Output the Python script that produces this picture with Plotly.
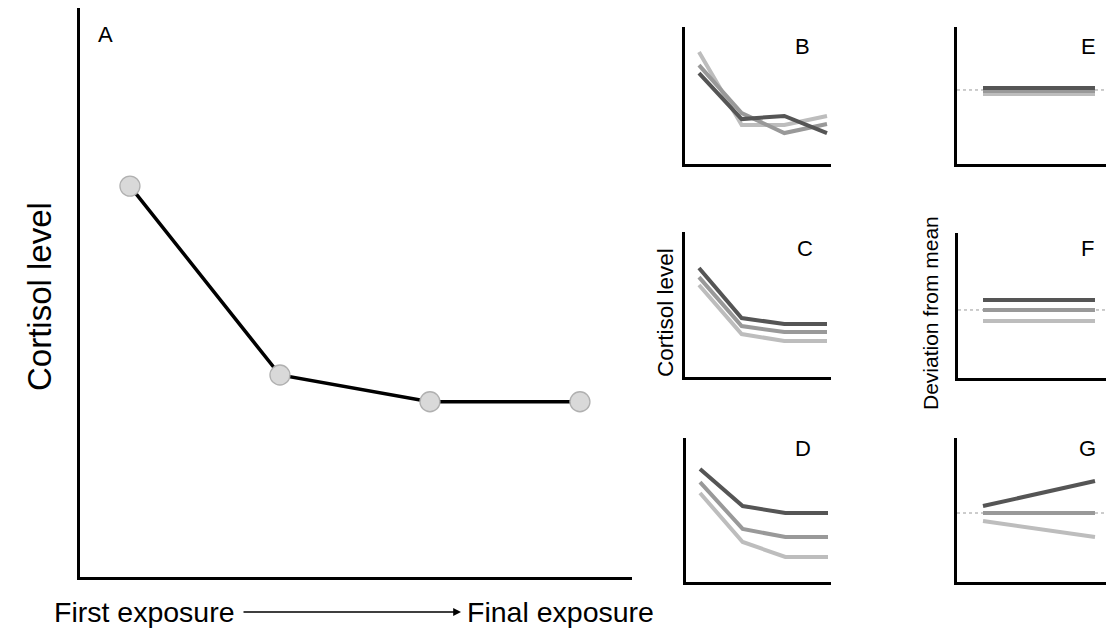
import plotly.graph_objects as go

W, H = 1106, 634
FONT = "Liberation Sans, Arial, sans-serif"

# ---------------- data ----------------
exposures = [1, 2, 3, 4]
ends = [1, 4]

# Panel A: mean cortisol over exposures
a_cortisol = [6.87, 3.55, 3.08, 3.08]

# Panel B (crossing individual curves)
b_dark = [6.5, 3.21, 3.43, 2.21]
b_mid = [7.07, 3.64, 2.21, 2.86]
b_light = [8.0, 2.79, 2.79, 3.43]

# Panel C (parallel curves)
c_dark = [7.79, 4.21, 3.79, 3.79]
c_mid = [7.14, 3.64, 3.21, 3.21]
c_light = [6.57, 3.07, 2.57, 2.57]

# Panel D (diverging curves)
d_dark = [8.07, 5.43, 4.93, 4.93]
d_mid = [7.14, 3.79, 3.21, 3.21]
d_light = [6.36, 2.86, 1.79, 1.79]

# Deviation from mean panels (first, final exposure)
e_dark = [0.14, 0.14]
e_mid = [-0.07, -0.07]
e_light = [-0.29, -0.29]

f_dark = [0.71, 0.71]
f_mid = [0.0, 0.0]
f_light = [-0.79, -0.79]

g_dark = [0.5, 2.29]
g_mid = [0.0, 0.0]
g_light = [-0.57, -1.71]

DARK, MID, LIGHT = "#555555", "#999999", "#bdbdbd"


def px_x(p):
    return p / W


def px_y(p):
    return 1 - p / H


fig = go.Figure()

# panel definitions: x-domain px, y-domain px (top, bottom), xrange, yrange
panels = {
    "A": ((80, 632), (8, 577), (0.667, 4.347), (0, 10)),
    "B": ((685, 831), (27, 164), (0.672, 4.094), (0, 9.79)),
    "C": ((685, 831), (232, 377), (0.672, 4.094), (0, 10.36)),
    "D": ((686, 831), (438, 582), (0.672, 4.07), (0, 10.29)),
    "E": ((957, 1106), (27, 164), (0.3035, 4.295), (-5.29, 4.5)),
    "F": ((958, 1106), (233, 378), (0.33, 4.295), (-4.86, 5.5)),
    "G": ((957, 1106), (438, 582), (0.3035, 4.295), (-4.93, 5.36)),
}
order = ["A", "B", "C", "D", "E", "F", "G"]
axis_ids = {}
layout_axes = {}
for i, name in enumerate(order):
    idx = "" if i == 0 else str(i + 1)
    axis_ids[name] = ("x" + idx, "y" + idx)
    (x0, x1), (yt, yb), xr, yr = panels[name]
    common = dict(showline=True, linecolor="black", linewidth=3, showgrid=False,
                  zeroline=False, showticklabels=False, ticks="", fixedrange=True)
    layout_axes["xaxis" + idx] = dict(domain=[px_x(x0), px_x(x1)], range=list(xr),
                                      anchor="y" + idx, **common)
    layout_axes["yaxis" + idx] = dict(domain=[px_y(yb), px_y(yt)], range=list(yr),
                                      anchor="x" + idx, **common)


def add_line(name, xs, ys, color, width=4):
    xa, ya = axis_ids[name]
    fig.add_trace(go.Scatter(x=xs, y=ys, mode="lines", xaxis=xa, yaxis=ya,
                             line=dict(color=color, width=width), showlegend=False,
                             hoverinfo="skip"))


# dotted mean lines
for name in ["E", "F", "G"]:
    xa, ya = axis_ids[name]
    fig.add_shape(type="line", xref=xa + " domain", yref=ya, x0=0, x1=1, y0=0, y1=0,
                  line=dict(color="#9a9a9a", width=1, dash="dot"), layer="below")

# Panel A
xa, ya = axis_ids["A"]
fig.add_trace(go.Scatter(x=exposures, y=a_cortisol, mode="lines+markers", xaxis=xa, yaxis=ya,
                         line=dict(color="black", width=3.5),
                         marker=dict(size=20, color="#d9d9d9",
                                     line=dict(color="#b0b0b0", width=1.3)),
                         showlegend=False, hoverinfo="skip"))

add_line("B", exposures, b_light, LIGHT)
add_line("B", exposures, b_mid, MID)
add_line("B", exposures, b_dark, DARK)

add_line("C", exposures, c_light, LIGHT)
add_line("C", exposures, c_mid, MID)
add_line("C", exposures, c_dark, DARK)

add_line("D", exposures, d_light, LIGHT)
add_line("D", exposures, d_mid, MID)
add_line("D", exposures, d_dark, DARK)

add_line("E", ends, e_light, LIGHT)
add_line("E", ends, e_mid, MID)
add_line("E", ends, e_dark, DARK)

add_line("F", ends, f_light, LIGHT)
add_line("F", ends, f_mid, MID)
add_line("F", ends, f_dark, DARK)

add_line("G", ends, g_light, LIGHT)
add_line("G", ends, g_mid, MID)
add_line("G", ends, g_dark, DARK)

annotations = []


def text(s, cx, cy, size, angle=0, xanchor="center"):
    annotations.append(dict(text=s, x=px_x(cx), y=px_y(cy), xref="paper", yref="paper",
                            showarrow=False, textangle=angle, xanchor=xanchor,
                            yanchor="middle",
                            font=dict(family=FONT, size=size, color="black")))


# panel letters
for letter, (cx, cy) in {"A": (105, 34), "B": (802, 47), "C": (805, 248), "D": (803, 448),
                         "E": (1088, 47), "F": (1087, 248), "G": (1087, 448)}.items():
    text(letter, cx, cy, 22)

text("Cortisol level", 39, 297, 33, angle=-90)
text("Cortisol level", 665, 313, 22.5, angle=-90)
text("Deviation from mean", 930, 313, 21, angle=-90)
text("First exposure", 52, 612, 28.5, xanchor="left")
text("Final exposure", 465, 612, 28.5, xanchor="left")

# arrow between labels
annotations.append(dict(x=px_x(461), y=px_y(612), xref="paper", yref="paper",
                        ax=-(461 - 242), ay=0, axref="pixel", ayref="pixel",
                        text="", showarrow=True, arrowhead=2, arrowsize=1.2,
                        arrowwidth=1.3, arrowcolor="black"))

fig.update_layout(width=W, height=H, margin=dict(l=0, r=0, t=0, b=0),
                  paper_bgcolor="white", plot_bgcolor="white",
                  annotations=annotations, **layout_axes)

fig.write_html("out.html")
